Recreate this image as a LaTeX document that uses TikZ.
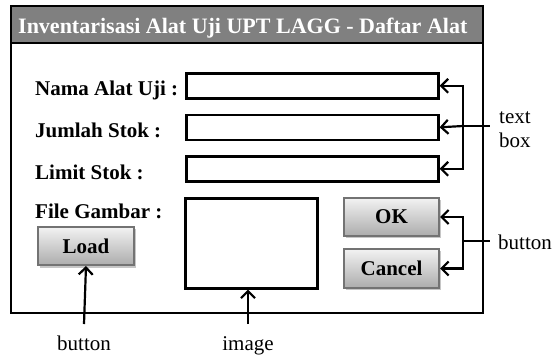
\documentclass[tikz,border=0pt]{standalone}
\usepackage{fontspec}
\setmainfont{Liberation Serif}
\usetikzlibrary{arrows.meta}
\definecolor{titlegray}{HTML}{808080}
\tikzset{
  lbl/.style={font=\fontsize{21}{24}\selectfont\bfseries, anchor=base west, inner sep=0pt},
  note/.style={font=\fontsize{21}{24}\selectfont, inner sep=0pt, align=center},
  tbox/.style={draw=black, line width=2.6pt, anchor=north west, minimum width=252pt, minimum height=25pt, inner sep=0pt},
  btn/.style={draw=gray!110, line width=2pt, top color=gray!10, bottom color=gray!65, anchor=north west,
     font=\fontsize{21}{24}\selectfont\bfseries, inner sep=0pt},
  arr/.style={line width=2.2pt, -{Straight Barb[length=7pt,width=14pt,line width=2.2pt]}},
  plain/.style={line width=2.2pt}
}
\begin{document}
\begin{tikzpicture}[x=1pt,y=-1pt]
\useasboundingbox (0,0) rectangle (553,354);
% window
\fill[titlegray] (11,6) rectangle (483,43);
\draw[line width=2.6pt] (11,6) rectangle (483,313);
\draw[line width=2.6pt] (11,43) -- (483,43);
\node[font=\fontsize{22}{24}\selectfont\bfseries, text=white, anchor=base west, inner sep=0pt] (title) at (18,33) {Inventarisasi Alat Uji UPT LAGG - Daftar Alat};
% labels
\node[lbl] (l1) at (35,95) {Nama Alat Uji :};
\node[lbl] (l2) at (35,137) {Jumlah Stok :};
\node[lbl] (l3) at (35,179) {Limit Stok :};
\node[lbl] (l4) at (35,218) {File Gambar :};
% text boxes
\node[tbox] (tb1) at (185,72) {};
\node[tbox] (tb2) at (185,113.5) {};
\node[tbox] (tb3) at (185,155) {};
% image box
\node[draw=black, line width=2.6pt, anchor=north west, minimum width=132pt, minimum height=90pt, inner sep=0pt] (img) at (184,197) {};
% buttons with shadows
\fill[gray!45] (40,229) rectangle (136,268);
\node[btn, minimum width=96pt, minimum height=38pt] (load) at (37,226) {Load};
\fill[gray!45] (346,200) rectangle (441,238);
\node[btn, minimum width=95pt, minimum height=38pt] (ok) at (343,197) {OK};
\fill[gray!45] (346,251) rectangle (441,290);
\node[btn, minimum width=95pt, minimum height=39pt] (cancel) at (343,248) {Cancel};
% annotations
\node[note, anchor=north west] (tbl) at (499,111) {text\\box};
\node[note, anchor=base west] (btl) at (498,249) {button};
\node[note, anchor=base] (btl2) at (84,350) {button};
\node[note, anchor=base] (iml) at (248,350) {image};
% connectors: text boxes
\coordinate (vt) at (463,126);
\coordinate (vte) at (490,126);
\draw[arr] (vt) |- (tb1.east);
\draw[arr] (vt) -- (tb2.east);
\draw[arr] (vt) |- (tb3.east);
\draw[plain] (vt) -- (vte);
% connectors: buttons
\coordinate (vb) at (463,241);
\coordinate (vbe) at (490,241);
\draw[arr] (vb) |- (ok.east);
\draw[arr] (vb) |- (cancel.east);
\draw[plain] (vb) -- (vbe);
% bottom arrows
\coordinate (lb) at (84,324);
\coordinate (ib) at (248,324);
\draw[arr] (lb) -- (load.south);
\draw[arr] (ib) -- (img.south -| ib);
\end{tikzpicture}
\end{document}
